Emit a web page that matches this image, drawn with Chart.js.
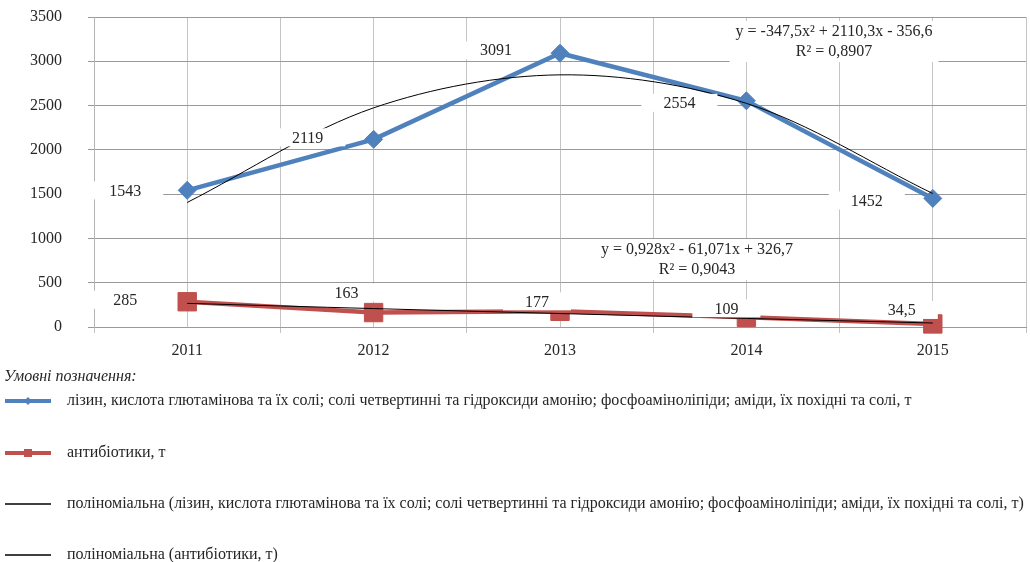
<!DOCTYPE html>
<html><head><meta charset="utf-8">
<script src="https://cdn.jsdelivr.net/npm/chart.js@4/dist/chart.umd.min.js"></script>
<style>html,body{margin:0;padding:0;background:#fff}#wrap{width:1030px;height:562px;position:relative}</style>
</head><body><div id="wrap"><canvas id="c" width="1030" height="562"></canvas></div>
<script>
// ---- data ----
const categories = ['2011', '2012', '2013', '2014', '2015'];
const aminoValues = [1543, 2119, 3091, 2554, 1452];
const antibioticValues = [285, 163, 177, 109, 34.5];
const aminoTrend = [1406, 2474, 2847, 2525, 1507];
const antibioticTrend = [267, 208, 152, 97, 45];
const aminoLabels = ['1543', '2119', '3091', '2554', '1452'];
const antibioticLabels = ['285', '163', '177', '109', '34,5'];
const yTicks = [0, 500, 1000, 1500, 2000, 2500, 3000, 3500];
const yTickLabels = ['0', '500', '1000', '1500', '2000', '2500', '3000', '3500'];
const seriesNames = [
  'лізин, кислота глютамінова та їх солі; солі четвертинні та гідроксиди амонію; фосфоамінoліпіди; аміди, їх похідні та солі, т',
  'антибіотики, т',
  'поліноміальна (лізин, кислота глютамінова та їх солі; солі четвертинні та гідроксиди амонію; фосфоамінoліпіди; аміди, їх похідні та солі, т)',
  'поліноміальна (антибіотики, т)'
];
const aminoEquation = ['y = -347,5x² + 2110,3x - 356,6', 'R² = 0,8907'];
const antibioticEquation = ['y = 0,928x² - 61,071x + 326,7', 'R² = 0,9043'];
const legendTitle = 'Умовні позначення:';

// ---- styles ----
const FONT = 'Liberation Serif, Times New Roman, serif';
const FS = 16;
const TXT = '#262626';
const BLUE = '#4F81BD';
const RED = '#C0504D';
const aminoLabelOffsets = [[-62, 0], [-66, -2], [-64, -3], [-67, 2], [-66, 2]];
const antiLabelOffsets = [[-62, -2], [-27, -20], [-23, -10], [-20, -9], [-31, -14]];

function sample(kind) {
  const cv = document.createElement('canvas');
  cv.width = 46; cv.height = 12;
  const c = cv.getContext('2d');
  c.beginPath(); c.moveTo(0, 6); c.lineTo(46, 6);
  if (kind === 0) { c.strokeStyle = BLUE; c.lineWidth = 4; c.stroke();
    c.fillStyle = BLUE; c.beginPath(); c.moveTo(23, 2); c.lineTo(27, 6); c.lineTo(23, 10); c.lineTo(19, 6); c.closePath(); c.fill(); }
  else if (kind === 1) { c.strokeStyle = RED; c.lineWidth = 4; c.stroke();
    c.fillStyle = RED; c.fillRect(19, 2, 8, 8); }
  else { c.strokeStyle = '#000'; c.lineWidth = 1.3; c.stroke(); }
  return cv;
}

const labelPlugin = {
  id: 'labels',
  afterDatasetsDraw(chart) {
    const ctx = chart.ctx;
    ctx.save();
    ctx.font = FS + 'px ' + FONT;
    ctx.textAlign = 'center';
    ctx.textBaseline = 'middle';
    const drawSet = (dsIndex, texts, offs) => {
      const meta = chart.getDatasetMeta(dsIndex);
      meta.data.forEach((pt, i) => {
        const cx = pt.x + offs[i][0], cy = pt.y + offs[i][1];
        const w = ctx.measureText(texts[i]).width + 44;
        ctx.fillStyle = '#fff';
        ctx.fillRect(cx - w / 2, cy - 9, w, 18);
        ctx.fillStyle = TXT;
        ctx.fillText(texts[i], cx, cy + 1);
      });
    };
    drawSet(0, aminoLabels, aminoLabelOffsets);
    drawSet(1, antibioticLabels, antiLabelOffsets);
    const drawEq = (lines, cx, cy) => {
      const w = ctx.measureText(lines[0]).width + 12;
      ctx.fillStyle = '#fff';
      ctx.fillRect(cx - w / 2, cy - 11, w, 41);
      ctx.fillStyle = TXT;
      ctx.fillText(lines[0], cx, cy);
      ctx.fillText(lines[1], cx, cy + 20);
    };
    drawEq(aminoEquation, 834, 32);
    drawEq(antibioticEquation, 697, 250);
    ctx.restore();
  },
  afterDraw(chart) {
    const ctx = chart.ctx;
    ctx.save();
    ctx.textBaseline = 'middle';
    ctx.textAlign = 'left';
    ctx.fillStyle = TXT;
    ctx.font = 'italic ' + FS + 'px ' + FONT;
    ctx.fillText(legendTitle, 4, 377);
    ctx.font = FS + 'px ' + FONT;
    const rows = [401, 453, 504, 555];
    seriesNames.forEach((name, i) => {
      ctx.drawImage(sample(i), 5, rows[i] - 6);
      ctx.fillStyle = TXT;
      ctx.fillText(name, 67, rows[i]);
    });
    ctx.restore();
  }
};

const tickFont = { family: FONT, size: FS };
const noPad = s => { s.paddingTop = 0; s.paddingBottom = 0; s.paddingLeft = 0; s.paddingRight = 0; };

new Chart(document.getElementById('c'), {
  type: 'line',
  data: {
    labels: categories,
    datasets: [
      { label: seriesNames[0], data: aminoValues, borderColor: BLUE, backgroundColor: BLUE, borderWidth: 4.5,
        pointStyle: 'rectRot', pointRadius: 9, pointBorderWidth: 1, pointBackgroundColor: BLUE, pointBorderColor: BLUE,
        order: 2, clip: false, tension: 0 },
      { label: seriesNames[1], data: antibioticValues, borderColor: RED, backgroundColor: RED, borderWidth: 4.5,
        pointStyle: 'rect', pointRadius: 13, pointBorderWidth: 1, pointBackgroundColor: RED, pointBorderColor: RED,
        order: 2, clip: false, tension: 0 },
      { label: seriesNames[2], data: aminoTrend, borderColor: '#000', borderWidth: 1, pointRadius: 0,
        tension: 0.33, order: 1, clip: false },
      { label: seriesNames[3], data: antibioticTrend, borderColor: '#000', borderWidth: 1, pointRadius: 0,
        tension: 0.33, order: 1, clip: false }
    ]
  },
  options: {
    responsive: false,
    animation: false,
    devicePixelRatio: 1,
    layout: { autoPadding: false, padding: { top: 17, left: 0, right: 4, bottom: 205 } },
    plugins: { legend: { display: false }, tooltip: { enabled: false } },
    scales: {
      x: {
        type: 'category', offset: true, position: 'bottom',
        grid: { offset: true, color: '#c4c4c4', tickLength: 6, drawTicks: true },
        border: { color: '#9a9a9a', width: 1 },
        ticks: { font: tickFont, color: TXT, padding: 8, maxRotation: 0 },
        afterFit(s) { s.height = 30; noPad(s); }
      },
      x2: {
        type: 'category', labels: categories, offset: true, position: 'top',
        grid: { offset: false, color: '#c4c4c4', drawTicks: false },
        border: { display: false },
        ticks: { display: false },
        afterFit(s) { s.height = 0; noPad(s); }
      },
      y: {
        min: 0, max: 3500,
        afterBuildTicks(s) { s.ticks = yTicks.map(v => ({ value: v })); },
        grid: { color: '#9a9a9a', tickLength: 6 },
        border: { color: '#b4b4b4', width: 1 },
        ticks: { font: tickFont, color: TXT, padding: 26,
          callback: (v, i) => yTickLabels[yTicks.indexOf(v)] },
        afterFit(s) { s.width = 94; noPad(s); }
      }
    }
  },
  plugins: [labelPlugin]
});
</script></body></html>
